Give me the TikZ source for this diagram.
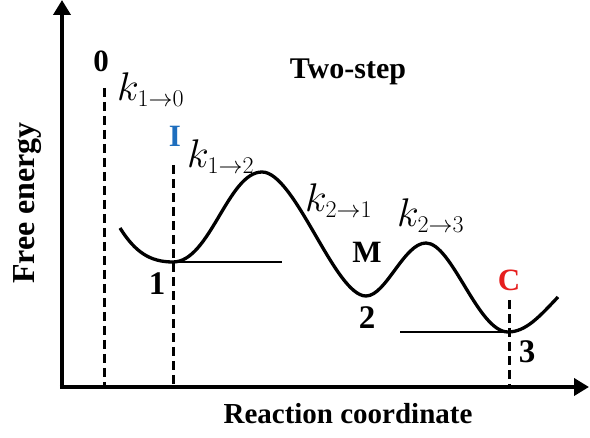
\RequirePackage{fix-cm}
\documentclass[tikz,border=0pt]{standalone}
\usepackage{fontspec}
\setmainfont{Liberation Serif}
\usetikzlibrary{arrows.meta}
\definecolor{iblue}{RGB}{30,110,190}
\definecolor{cred}{RGB}{230,30,30}
\newcommand{\kij}[2]{$k_{\mbox{\fontsize{24}{24}\selectfont$#1{\to}#2$}}$}
\tikzset{
  axis/.style={line width=4.5pt,-{Triangle[length=15pt,width=17pt]}},
  dline/.style={line width=3pt,dash pattern=on 9pt off 5pt},
  curve/.style={line width=3.3pt},
  level/.style={line width=2.2pt},
  lbl/.style={font=\fontsize{31}{31}\selectfont\bfseries,inner sep=0pt},
  big/.style={font=\fontsize{33}{33}\selectfont\bfseries,inner sep=0pt},
  klbl/.style={font=\fontsize{40}{40}\selectfont,inner sep=0pt,anchor=base west},
}
\begin{document}
\begin{tikzpicture}[x=1pt,y=-1pt]
\useasboundingbox (0,0) rectangle (590,438);
\coordinate (O) at (62,387);
\coordinate (Ytop) at (62,0);
\coordinate (Xend) at (589,387);
\draw[axis] (O) -- (Ytop);
\draw[axis] ([xshift=-2.25pt]O) -- (Xend);
% dashed lines
\coordinate (d0t) at (104,88);
\coordinate (d0b) at (104,387);
\coordinate (d1t) at (173,165);
\coordinate (d1b) at (173,387);
\coordinate (d3t) at (509,300);
\coordinate (d3b) at (509,386);
\draw[dline] (d0t) -- (d0b);
\draw[dline] (d1t) -- (d1b);
\draw[dline] (d3t) -- (d3b);
% levels
\coordinate (m1) at (173,262);
\coordinate (l1) at (282,262);
\coordinate (m3) at (508,332);
\coordinate (l3) at (400,332);
\draw[level] (m1) -- (l1);
\draw[level] (l3) -- (m3);
% curve
\coordinate (s) at (120,228);
\coordinate (p1) at (262,172);
\coordinate (m2) at (366,296);
\coordinate (p2) at (426,243);
\coordinate (e) at (558,297);
\draw[curve] (s) .. controls (135,252) and (150,262) .. (m1)
  .. controls (210,262) and (228,172) .. (p1)
  .. controls (295,172) and (335,296) .. (m2)
  .. controls (386,296) and (404,243) .. (p2)
  .. controls (452,243) and (478,332) .. (m3)
  .. controls (526,332) and (540,316) .. (e);
% labels
\node[lbl] (n0) at (101,61) {0};
\node[lbl,text=iblue] (nI) at (175,136) {I};
\node[big] (n1) at (157,284) {1};
\node[lbl] (nM) at (367,252) {M};
\node[big] (n2) at (367,318) {2};
\node[lbl,text=cred] (nC) at (509,280) {C};
\node[big] (n3) at (527,352) {3};
\node[lbl,font=\fontsize{30}{30}\selectfont\bfseries] (title) at (348,72) {Two-step};
\node[klbl] (k10) at (117,101) {\kij{1}{0}};
\node[klbl] (k12) at (187,168) {\kij{1}{2}};
\node[klbl] (k21) at (305,212) {\kij{2}{1}};
\node[klbl] (k23) at (397,227) {\kij{2}{3}};
\node[lbl,rotate=90,font=\fontsize{32}{32}\selectfont\bfseries] (ylab) at (28,203) {Free energy};
\node[lbl,font=\fontsize{29}{29}\selectfont\bfseries] (xlab) at (348,414) {Reaction coordinate};
\end{tikzpicture}
\end{document}
